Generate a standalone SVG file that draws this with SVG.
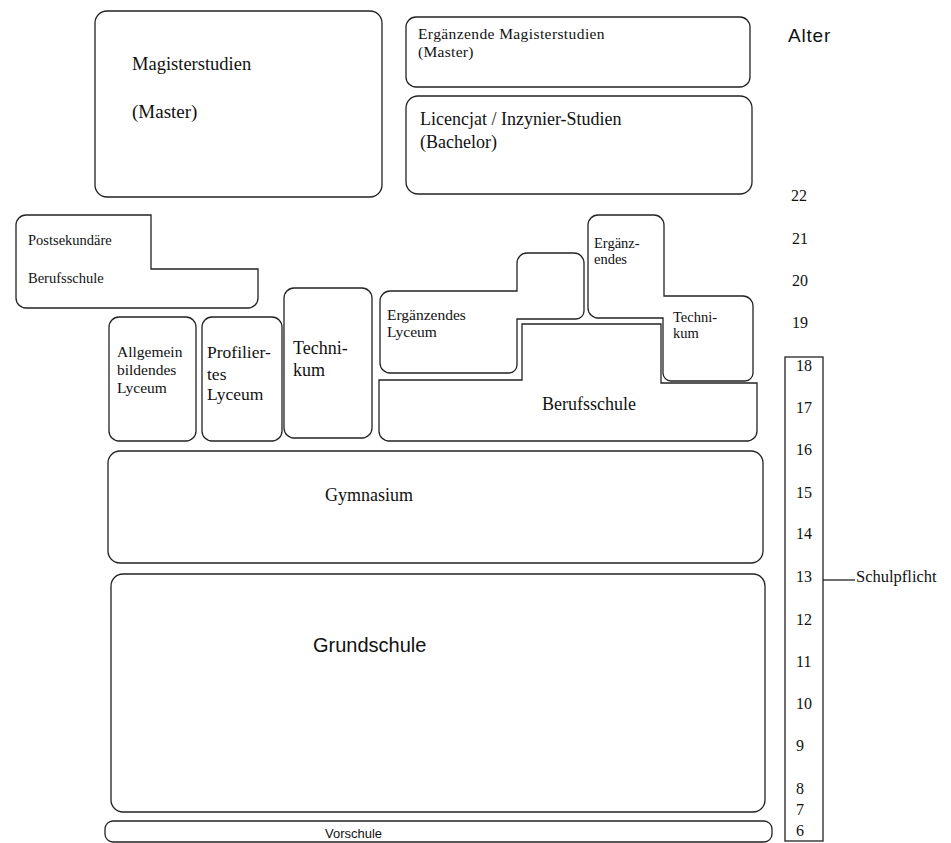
<svg xmlns="http://www.w3.org/2000/svg" width="951" height="843" viewBox="0 0 951 843">
<style>
.box{fill:#fff;stroke:#222;stroke-width:1.3}
.ln{fill:none;stroke:#222;stroke-width:1.3}
text{fill:#111}
.serif{font-family:"Liberation Serif","Times New Roman",serif}
.sans{font-family:"Liberation Sans",Arial,sans-serif}
.num{font-family:"Liberation Serif","Times New Roman",serif;font-size:16px}
</style>
<rect width="951" height="843" fill="#fff"/>
<g id="magisterstudien">
<rect class="box" x="95" y="11" width="287" height="186" rx="12"/>
<text class="serif" x="132" y="70" font-size="18.5">Magisterstudien</text>
<text class="serif" x="132" y="118" font-size="19">(Master)</text>
</g>
<g id="ergaenzende-magisterstudien">
<rect class="box" x="406" y="17" width="344" height="70" rx="10"/>
<text class="serif" x="418" y="39" font-size="15.5" letter-spacing="0.4">Ergänzende Magisterstudien</text>
<text class="serif" x="418" y="57" font-size="15.5" letter-spacing="0.3">(Master)</text>
</g>
<g id="licencjat">
<rect class="box" x="406" y="96" width="346" height="98" rx="12"/>
<text class="serif" x="420" y="125" font-size="18">Licencjat / Inzynier-Studien</text>
<text class="serif" x="420" y="148" font-size="18">(Bachelor)</text>
</g>
<g id="postsekundaere-berufsschule">
<path class="box" d="M16,225 A10,10 0 0 1 26,215 H151 V269 H258 V298 A10,10 0 0 1 248,308 H26 A10,10 0 0 1 16,298 Z"/>
<text class="serif" x="28" y="245" font-size="14.5">Postsekundäre</text>
<text class="serif" x="28" y="283" font-size="14.5">Berufsschule</text>
</g>
<g id="allgemein-lyceum">
<rect class="box" x="109" y="317" width="87" height="124" rx="10"/>
<text class="serif" x="117" y="357" font-size="15.5">Allgemein</text>
<text class="serif" x="117" y="375" font-size="15.5">bildendes</text>
<text class="serif" x="117" y="393" font-size="15.5">Lyceum</text>
</g>
<g id="profiliertes-lyceum">
<rect class="box" x="202" y="317" width="80" height="124" rx="10"/>
<text class="serif" x="207" y="358" font-size="17.5">Profilier-</text>
<text class="serif" x="207" y="380" font-size="17.5">tes</text>
<text class="serif" x="207" y="400" font-size="17.5">Lyceum</text>
</g>
<g id="technikum">
<rect class="box" x="284" y="288" width="88" height="150" rx="10"/>
<text class="serif" x="293" y="354" font-size="18">Techni-</text>
<text class="serif" x="293" y="376" font-size="18">kum</text>
</g>
<g id="berufsschule">
<path class="box" d="M379,380 H522 V324 H661 V383 H757 V431 A10,10 0 0 1 747,441 H389 A10,10 0 0 1 379,431 Z"/>
<text class="serif" x="542" y="410" font-size="18">Berufsschule</text>
</g>
<g id="ergaenzendes-lyceum">
<path class="box" d="M380,301 A10,10 0 0 1 390,291 H517 V263 A10,10 0 0 1 527,253 H574 A10,10 0 0 1 584,263 V311 A8,8 0 0 1 576,319 H517 V365 A8,8 0 0 1 509,373 H390 A10,10 0 0 1 380,363 Z"/>
<text class="serif" x="387" y="320" font-size="15.5">Ergänzendes</text>
<text class="serif" x="387" y="337" font-size="15.5">Lyceum</text>
</g>
<g id="ergaenzendes-technikum">
<path class="box" d="M588,225 A10,10 0 0 1 598,215 H654 A10,10 0 0 1 664,225 V296 H743 A10,10 0 0 1 753,306 V373 A8,8 0 0 1 745,381 H671 A8,8 0 0 1 663,373 V318 H598 A10,10 0 0 1 588,308 Z"/>
<text class="serif" x="594" y="248" font-size="14.5">Ergänz-</text>
<text class="serif" x="594" y="264" font-size="14.5">endes</text>
<text class="serif" x="673" y="322" font-size="14.5">Techni-</text>
<text class="serif" x="673" y="338" font-size="14.5">kum</text>
</g>
<g id="gymnasium">
<rect class="box" x="108" y="451" width="655" height="112" rx="12"/>
<text class="serif" x="325" y="501" font-size="18">Gymnasium</text>
</g>
<g id="grundschule">
<rect class="box" x="111" y="574" width="654" height="238" rx="12"/>
<text class="sans" x="313" y="652" font-size="20">Grundschule</text>
</g>
<g id="vorschule">
<rect class="box" x="105" y="821" width="667" height="21" rx="8"/>
<text class="sans" x="325" y="838" font-size="13">Vorschule</text>
</g>
<g id="alter-skala">
<text class="sans" x="788" y="42" font-size="19" letter-spacing="0.8">Alter</text>
<text class="num" x="791" y="201">22</text>
<text class="num" x="792" y="243.5">21</text>
<text class="num" x="792" y="285.5">20</text>
<text class="num" x="792" y="327.5">19</text>
</g>
<g id="schulpflicht">
<rect class="box" x="785" y="357" width="38" height="484"/>
<text class="num" x="796" y="370.5">18</text>
<text class="num" x="796" y="412.5">17</text>
<text class="num" x="796" y="455">16</text>
<text class="num" x="796" y="497.5">15</text>
<text class="num" x="796" y="539">14</text>
<text class="num" x="796" y="582">13</text>
<text class="num" x="796" y="625">12</text>
<text class="num" x="796" y="667">11</text>
<text class="num" x="796" y="709">10</text>
<text class="num" x="796" y="751">9</text>
<text class="num" x="796" y="794">8</text>
<text class="num" x="796" y="815">7</text>
<text class="num" x="796" y="836">6</text>
<text class="serif" x="856" y="582" font-size="16.5">Schulpflicht</text>
</g>
<g id="connectors">
<line class="ln" x1="823" y1="580" x2="855" y2="580"/>
</g>
</svg>
